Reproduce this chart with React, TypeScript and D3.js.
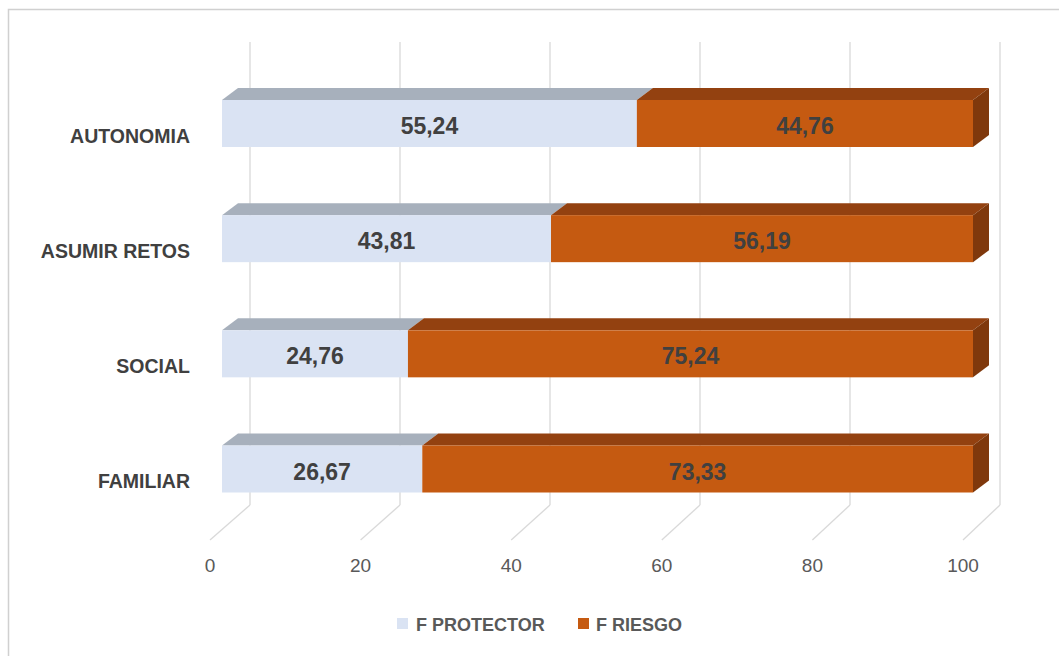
import React from "react";
import * as d3 from "d3";

const categories = ["AUTONOMIA", "ASUMIR RETOS", "SOCIAL", "FAMILIAR"];
const protector = [55.24, 43.81, 24.76, 26.67];
const riesgo = [44.76, 56.19, 75.24, 73.33];
const xTicks = [0, 20, 40, 60, 80, 100];
const seriesNames = ["F PROTECTOR", "F RIESGO"];

const W = 1059;
const H = 656;
const FONT = "'Liberation Sans', Arial, sans-serif";

const colors = {
  protFront: "#dae3f3",
  protTop: "#a7b0bc",
  riskFront: "#c55a11",
  riskTop: "#934110",
  riskSide: "#7f380c",
  grid: "#d9d9d9",
  text: "#404040",
  axisText: "#595959",
};

const fmt = (v: number) => v.toFixed(2).replace(".", ",");

export default function App() {
  const xBar = d3.scaleLinear().domain([0, 100]).range([222, 973]);
  const xBack = d3.scaleLinear().domain([0, 100]).range([250, 1000]);
  const xFront = d3.scaleLinear().domain([0, 100]).range([210, 963]);
  const y = d3.scalePoint<string>().domain(categories).range([123.5, 469]);
  const barH = 47;
  const dx = 16;
  const dy = -12;
  const gridTop = 42;
  const backY = 505;
  const frontY = 540;

  const poly = (pts: [number, number][]) => "M" + pts.map((p) => p.join(",")).join("L") + "Z";

  const stack = d3.stack<any>().keys(["p", "r"])(
    categories.map((c, i) => ({ c, p: protector[i], r: riesgo[i] }))
  );

  return (
    <svg width={W} height={H} style={{ position: "absolute", left: 0, top: 0, background: "#fff" }}>
      <rect x={8.5} y={9.5} width={W + 20} height={H + 20} fill="#fff" stroke="#d0d0d0" strokeWidth={1.5} />
      {/* gridlines */}
      {xTicks.map((t) => (
        <g key={t}>
          <line x1={xBack(t)} x2={xBack(t)} y1={gridTop} y2={backY} stroke={colors.grid} strokeWidth={1.3} />
          <line x1={xBack(t)} x2={xFront(t)} y1={backY} y2={frontY} stroke={colors.grid} strokeWidth={1.3} />
          <text x={xFront(t)} y={572} textAnchor="middle" fontFamily={FONT} fontSize={19} fill={colors.axisText}>
            {t}
          </text>
        </g>
      ))}
      {/* bars */}
      {categories.map((c, i) => {
        const cy = y(c)!;
        const y0 = cy - barH / 2;
        const y1 = cy + barH / 2;
        const [p0, p1] = stack[0][i];
        const [r0, r1] = stack[1][i];
        return (
          <g key={c}>
            {/* protector */}
            <path d={poly([[xBar(p0), y0], [xBar(p0) + dx, y0 + dy], [xBar(p1) + dx, y0 + dy], [xBar(p1), y0]])} fill={colors.protTop} />
            <rect x={xBar(p0)} y={y0} width={xBar(p1) - xBar(p0)} height={barH} fill={colors.protFront} />
            {/* riesgo */}
            <path d={poly([[xBar(r0), y0], [xBar(r0) + dx, y0 + dy], [xBar(r1) + dx, y0 + dy], [xBar(r1), y0]])} fill={colors.riskTop} />
            <path d={poly([[xBar(r1), y0], [xBar(r1) + dx, y0 + dy], [xBar(r1) + dx, y1 + dy], [xBar(r1), y1]])} fill={colors.riskSide} />
            <rect x={xBar(r0)} y={y0} width={xBar(r1) - xBar(r0)} height={barH} fill={colors.riskFront} />
            <text x={(xBar(p0) + xBar(p1)) / 2} y={cy + 10.5} textAnchor="middle" fontFamily={FONT} fontWeight="bold" fontSize={23} fill={colors.text}>
              {fmt(protector[i])}
            </text>
            <text x={(xBar(r0) + xBar(r1)) / 2} y={cy + 10.5} textAnchor="middle" fontFamily={FONT} fontWeight="bold" fontSize={23} fill={colors.text}>
              {fmt(riesgo[i])}
            </text>
            <text x={190} y={cy + 19} textAnchor="end" fontFamily={FONT} fontWeight="bold" fontSize={19.5} fill={colors.text}>
              {c}
            </text>
          </g>
        );
      })}
      {/* legend */}
      <rect x={397} y={618} width={11} height={11} fill={colors.protFront} />
      <text x={416} y={631} fontFamily={FONT} fontWeight="bold" fontSize={18} fill={colors.axisText}>
        {seriesNames[0]}
      </text>
      <rect x={578} y={618} width={11} height={11} fill={colors.riskFront} />
      <text x={596} y={631} fontFamily={FONT} fontWeight="bold" fontSize={18} fill={colors.axisText}>
        {seriesNames[1]}
      </text>
    </svg>
  );
}
